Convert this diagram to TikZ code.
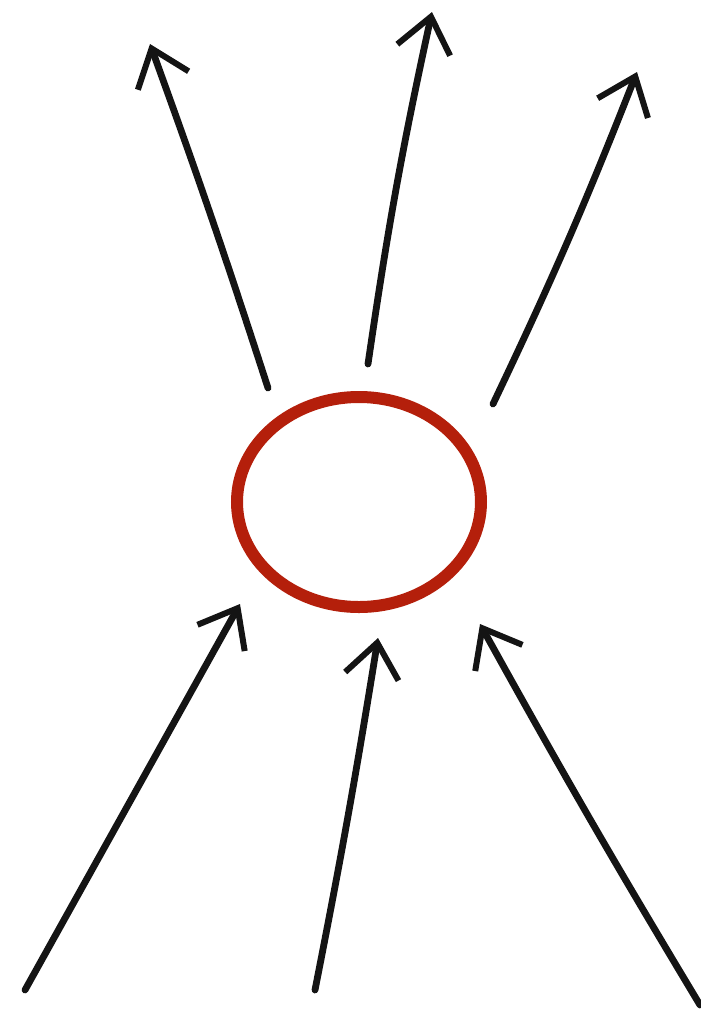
\documentclass[tikz,border=0pt]{standalone}
\usepackage{tikz}
\usetikzlibrary{arrows.meta,shapes.geometric}
\definecolor{ink}{HTML}{141414}
\definecolor{brush}{HTML}{B41F0B}
\tikzset{
  stroke/.style={draw=ink,line width=3.4pt,line cap=round,
    -{Straight Barb[length=17pt,width=27pt,line width=3pt]}},
  ring/.style={ellipse,draw=brush,line width=6pt,inner sep=0pt,
    minimum width=122pt,minimum height=105pt}
}

\begin{document}
\begin{tikzpicture}[x=0.5pt,y=-0.5pt]
  \useasboundingbox (0,0) rectangle (701,1019);
  \node[ring] (core) at (359,502) {};
  % outgoing, then incoming
  \foreach \nm/\xa/\ya/\xb/\yb/\bd in {
      ua/268/388/150/44/-1,
      ub/368/364/432/12/2,
      uc/493/404/637/72/-2,
      da/25/990/240/604/0,
      db/315/990/378/638/-1,
      dc/700/1005/480/624/1} {
    \coordinate (\nm-tail) at (\xa,\ya);
    \coordinate (\nm-head) at (\xb,\yb);
    \draw[stroke] (\nm-tail) to[bend left=\bd] (\nm-head);
  }
\end{tikzpicture}
\end{document}
